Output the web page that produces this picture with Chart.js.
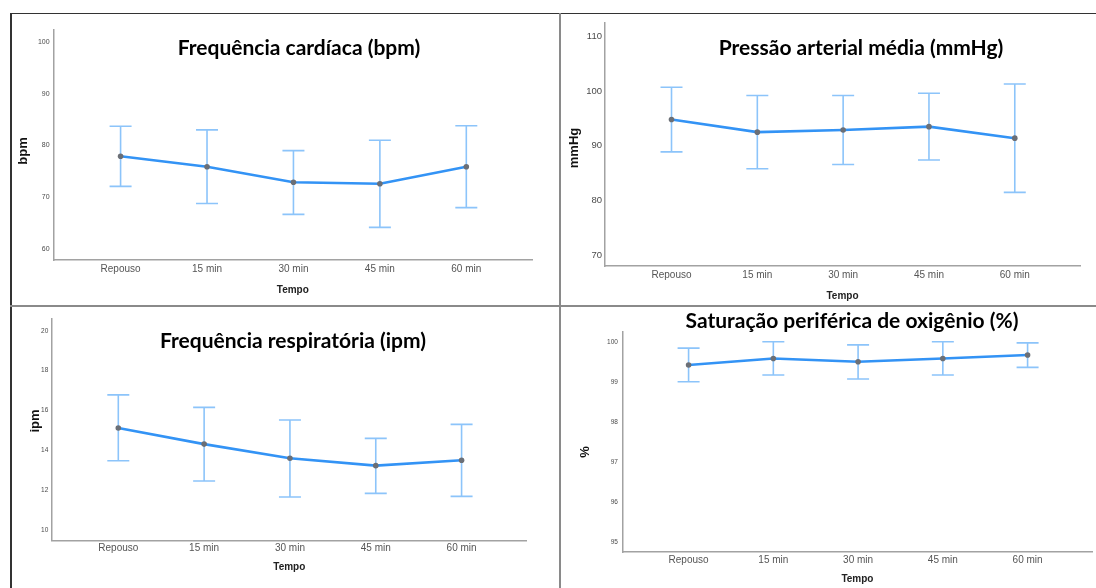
<!DOCTYPE html>
<html>
<head>
<meta charset="utf-8">
<script src="https://cdn.jsdelivr.net/npm/chart.js@4.4.1/dist/chart.umd.min.js"></script>
<style>
  html, body { margin:0; padding:0; background:#fff; }
  #wrap { position:relative; width:1096px; height:588px; overflow:hidden; background:#fff; }
  canvas { position:absolute; }
  .line { position:absolute; }
  .title { position:absolute; transform:translate(-50%,-50%); white-space:nowrap; font-family:Lato, 'Open Sans', sans-serif; font-weight:700; color:#000; line-height:1; z-index:5; }
  .ytitle { position:absolute; transform:translate(-50%,-50%) rotate(-90deg); white-space:nowrap; font-family:'Liberation Sans', Arial, sans-serif; font-weight:700; font-size:13px; color:#111; line-height:1; z-index:5; }
</style>
</head>
<body>
<div id="wrap">
  <div class="line" style="left:10px;top:12.5px;width:1086px;height:1.5px;background:#333;"></div>
  <div class="line" style="left:10px;top:12.5px;width:1.5px;height:576px;background:#333;"></div>
  <div class="line" style="left:559px;top:13px;width:2px;height:575px;background:#8a8a8a;"></div>
  <div class="line" style="left:10px;top:304.5px;width:1086px;height:2px;background:#8a8a8a;"></div>

  <canvas id="cA" width="547" height="290" style="left:11px;top:14px;"></canvas>
  <canvas id="cB" width="535" height="290" style="left:561px;top:14px;"></canvas>
  <canvas id="cC" width="547" height="281" style="left:11px;top:307px;"></canvas>
  <canvas id="cD" width="535" height="281" style="left:561px;top:307px;"></canvas>

  <div class="title" style="left:299px;top:46px;font-size:21px;">Frequência cardíaca (bpm)</div>
  <div class="title" style="left:861px;top:46px;font-size:21px;">Pressão arterial média (mmHg)</div>
  <div class="title" style="left:293px;top:339px;font-size:21px;">Frequência respiratória (ipm)</div>
  <div class="title" style="left:852px;top:319px;font-size:21px;">Saturação periférica de oxigênio (%)</div>

  <div class="ytitle" style="left:22px;top:151px;">bpm</div>
  <div class="ytitle" style="left:573px;top:148px;">mmHg</div>
  <div class="ytitle" style="left:34px;top:421px;">ipm</div>
  <div class="ytitle" style="left:584px;top:452px;">%</div>
</div>
<script>
// ---- data ----
const categories = ['Repouso', '15 min', '30 min', '45 min', '60 min'];

const hrMean = [77.9, 75.9, 72.9, 72.6, 75.9];
const hrLow  = [72.1, 68.8, 66.7, 64.2, 68.0];
const hrHigh = [83.7, 83.0, 79.0, 81.0, 83.8];
const hrTicks = [60, 70, 80, 90, 100];

const mapMean = [94.8, 92.5, 92.9, 93.5, 91.4];
const mapLow  = [88.9, 85.8, 86.6, 87.4, 81.5];
const mapHigh = [100.7, 99.2, 99.2, 99.6, 101.3];
const mapTicks = [70, 80, 90, 100, 110];

const rrMean = [15.13, 14.32, 13.61, 13.24, 13.51];
const rrLow  = [13.49, 12.47, 11.67, 11.85, 11.70];
const rrHigh = [16.79, 16.16, 15.53, 14.61, 15.31];
const rrTicks = [10, 12, 14, 16, 18, 20];

const spoMean = [99.43, 99.59, 99.51, 99.59, 99.68];
const spoLow  = [99.01, 99.18, 99.08, 99.18, 99.37];
const spoHigh = [99.85, 100.01, 99.93, 100.01, 99.98];
const spoTicks = [95, 96, 97, 98, 99, 100];

// ---- error bar plugin (uses library scales) ----
const errorBars = {
  id: 'errorBars',
  beforeDatasetsDraw(chart) {
    const ctx = chart.ctx;
    const xs = chart.scales.x, ys = chart.scales.y;
    chart.data.datasets.forEach(ds => {
      if (!ds.errLow) return;
      ctx.save();
      ctx.strokeStyle = '#8cc4fa';
      ctx.lineWidth = 1.6;
      const cap = 11;
      ds.errLow.forEach((lo, i) => {
        const px = xs.getPixelForValue(i);
        const pl = ys.getPixelForValue(lo);
        const ph = ys.getPixelForValue(ds.errHigh[i]);
        ctx.beginPath();
        ctx.moveTo(px, pl); ctx.lineTo(px, ph);
        ctx.moveTo(px - cap, pl); ctx.lineTo(px + cap, pl);
        ctx.moveTo(px - cap, ph); ctx.lineTo(px + cap, ph);
        ctx.stroke();
      });
      ctx.restore();
    });
  }
};

const FONT = "'Liberation Sans', Arial, sans-serif";

function makePanel(id, mean, low, high, yTicks, g) {
  new Chart(document.getElementById(id), {
    type: 'line',
    data: {
      datasets: [{
        data: mean.map((v, i) => ({ x: i, y: v })),
        errLow: low,
        errHigh: high,
        borderColor: '#3393f5',
        borderWidth: 2.6,
        tension: 0,
        pointRadius: 2.8,
        pointBackgroundColor: '#6b6f76',
        pointBorderWidth: 0,
        fill: false
      }]
    },
    options: {
      responsive: false,
      animation: false,
      devicePixelRatio: 1,
      layout: { padding: { top: g.padTop, right: g.padRight, left: 0, bottom: 0 } },
      plugins: { legend: { display: false }, tooltip: { enabled: false } },
      scales: {
        x: {
          type: 'linear', bounds: 'data', min: -0.775, max: 4.76,
          grid: { display: false, drawTicks: false },
          border: { display: true, color: '#a2a2a2', width: 1.5 },
          afterBuildTicks: s => { s.ticks = categories.map((c, i) => ({ value: i })); },
          afterFit: s => { s.height = g.xH; },
          ticks: { callback: v => categories[v], font: { family: FONT, size: 10 }, color: '#555', padding: g.xTickPad, maxRotation: 0, autoSkip: false },
          title: { display: true, text: 'Tempo', font: { family: FONT, size: 10, weight: 'bold' }, color: '#222', padding: { top: 0, bottom: g.tempoPad } }
        },
        y: {
          type: 'linear', bounds: 'data', min: g.yMin, max: g.yMax,
          grid: { display: false, drawTicks: false },
          border: { display: true, color: '#a2a2a2', width: 1.5 },
          afterBuildTicks: s => { s.ticks = yTicks.map(v => ({ value: v })); },
          afterFit: s => { s.width = g.yW; },
          ticks: { font: { family: FONT, size: g.yFont }, color: '#4a4a4a', padding: g.yTickPad }
        }
      }
    },
    plugins: [errorBars]
  });
}

makePanel('cA', hrMean, hrLow, hrHigh, hrTicks,
  { padTop: 15.3, padRight: 26, xH: 44, yW: 42.6, yMin: 57.9, yMax: 102.4, yFont: 7, yTickPad: 4, xTickPad: 3.3, tempoPad: 8 });
makePanel('cB', mapMean, mapLow, mapHigh, mapTicks,
  { padTop: 2.7, padRight: 16, xH: 38, yW: 44, yMin: 68.04, yMax: 112.5, yFont: 9.5, yTickPad: 3, xTickPad: 3.7, tempoPad: 2 });
makePanel('cC', rrMean, rrLow, rrHigh, rrTicks,
  { padTop: 12, padRight: 31.2, xH: 47.7, yW: 40.8, yMin: 9.5, yMax: 20.59, yFont: 6.5, yTickPad: 3.5, xTickPad: 2.4, tempoPad: 15 });
makePanel('cD', spoMean, spoLow, spoHigh, spoTicks,
  { padTop: 24.3, padRight: 3, xH: 36, yW: 61.9, yMin: 94.76, yMax: 100.27, yFont: 6.5, yTickPad: 5, xTickPad: 2.7, tempoPad: 2.7 });
</script>
</body>
</html>
